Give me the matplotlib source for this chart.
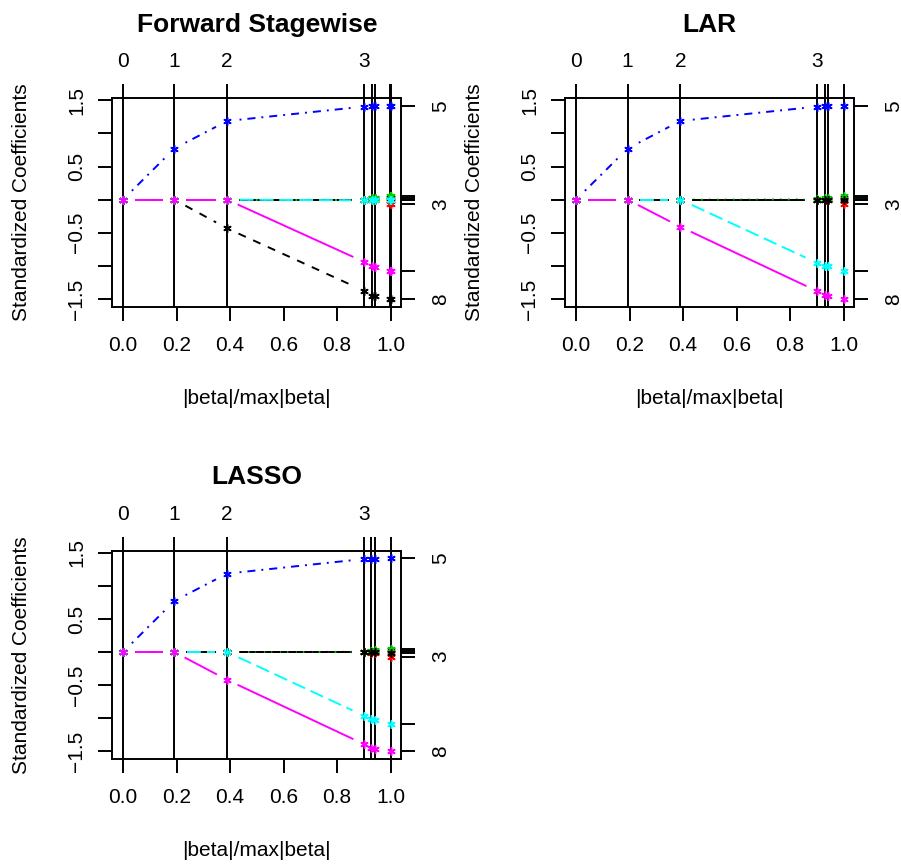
import numpy as np
import matplotlib
matplotlib.use('Agg')
import matplotlib.pyplot as plt
from matplotlib.transforms import offset_copy

plt.rcParams['font.family'] = ['Liberation Sans', 'DejaVu Sans']
plt.rcParams['lines.scale_dashes'] = False

# ---- data ----
titles = ['Forward Stagewise', 'LAR', 'LASSO']
xlab = '|beta|/max|beta|'
ylab = 'Standardized Coefficients'

# |beta|/max|beta| at each step
fs_steps = [0.0, 0.192, 0.389, 0.900, 0.931, 0.941, 0.996, 1.0]
lar_steps = [0.0, 0.193, 0.390, 0.900, 0.931, 0.941, 1.0]
lasso_steps = [0.0, 0.192, 0.389, 0.900, 0.928, 0.940, 1.0]

# coefficient paths, one row per variable (matplot colour / lty order)
fs_coef = [
    [0, 0, 0, 0, 0.02, 0.02, 0.026, 0.027],
    [0, 0, 0, 0, 0, 0, -0.06, -0.068],
    [0, 0, 0, 0, 0.02, 0.03, 0.05, 0.053],
    [0, 0.772, 1.188, 1.405, 1.407, 1.408, 1.413, 1.414],
    [0, 0, 0, -0.01, 0, 0, -0.005, -0.008],
    [0, 0, 0, -0.938, -1.003, -1.010, -1.075, -1.078],
    [0, 0, -0.434, -1.375, -1.455, -1.460, -1.495, -1.500],
    [0, 0, 0, 0, 0, 0, 0, 0],
]
lar_coef = [
    [0, 0, 0, 0, 0, 0.01, 0.027],
    [0, 0, 0, 0, -0.01, -0.01, -0.068],
    [0, 0, 0, 0.005, 0.02, 0.025, 0.053],
    [0, 0.772, 1.188, 1.405, 1.407, 1.408, 1.414],
    [0, 0, 0, -0.953, -0.998, -1.005, -1.078],
    [0, 0, -0.41, -1.38, -1.44, -1.45, -1.500],
    [0, 0, 0, 0, 0, 0, -0.008],
    [0, 0, 0, 0, 0, 0, 0],
]
lasso_coef = [
    [0, 0, 0, 0, 0, 0.01, 0.027],
    [0, 0, 0, 0, -0.01, -0.01, -0.068],
    [0, 0, 0, 0.005, 0.02, 0.025, 0.053],
    [0, 0.772, 1.185, 1.405, 1.407, 1.408, 1.414],
    [0, 0, 0, -0.96, -1.016, -1.02, -1.08],
    [0, 0, -0.42, -1.39, -1.45, -1.46, -1.500],
    [0, 0, 0, 0, 0, 0, -0.008],
    [0, 0, 0, 0, 0, 0, 0],
]

top_labels = ['0', '1', '2', '3']
fs_right = ['', '3', '', '5', '', '', '8', '']
lar_right = ['', '3', '', '5', '', '8', '', '']

x_ticks = [0.0, 0.2, 0.4, 0.6, 0.8, 1.0]
y_ticks = [-1.5, -1.0, -0.5, 0.0, 0.5, 1.0, 1.5]
y_ticklabels = ['\u22121.5', '', '\u22120.5', '', '0.5', '', '1.5']

# R (pre-4.0) palette and matplot lty cycle
colors = ['black', '#FF0000', '#00CD00', '#0000FF', '#00FFFF', '#FF00FF']
styles = ['-', (0, (5.8, 5.8)), (0, (1.4, 4.3)), (0, (1.4, 4.3, 5.8, 4.3)),
          (0, (10, 4.3))]
# stacking order of the series (last one ends on top)
draw_order = [7, 1, 0, 2, 6, 3, 4, 5]

W, H, DPI = 901, 867, 100
fig = plt.figure(figsize=(W / DPI, H / DPI), dpi=DPI)

LW = 1.4
FS = 15
GAP = 12.5  # px gap around points (type = "b")


def draw_panel(left_px, top_px, steps, coefs, title, right_lab):
    bw, bh = 289, 208.4
    ax = fig.add_axes([left_px / W, 1 - (top_px + bh) / H, bw / W, bh / H])
    vals = np.array(coefs, dtype=float)
    lo, hi = vals.min(), vals.max()
    ax.set_xlim(-0.04, 1.04)
    ax.set_ylim(lo - 0.04 * (hi - lo), hi + 0.04 * (hi - lo))

    for s in steps:
        ax.axvline(s, color='black', lw=LW, zorder=1)

    to_px = ax.transData
    from_px = ax.transData.inverted()
    for z, j in enumerate(draw_order):
        c = coefs[j]
        col = colors[j % 6]
        ls = styles[j % 5]
        pts = to_px.transform(np.column_stack([steps, c]))
        for k in range(len(steps) - 1):
            p0, p1 = pts[k], pts[k + 1]
            d = p1 - p0
            L = np.hypot(d[0], d[1])
            if L <= 2 * GAP:
                continue
            u = d / L
            seg = from_px.transform(np.array([p0 + u * GAP, p1 - u * GAP]))
            ax.plot(seg[:, 0], seg[:, 1], color=col, linestyle=ls, lw=LW,
                    zorder=2 + z * 0.01)
        ax.plot(steps, c, linestyle='none', marker=(6, 2, 0), color=col,
                ms=6, mew=1.1, zorder=3 + z * 0.01)

    for sp in ax.spines.values():
        sp.set_linewidth(LW)
    ax.set_xticks(x_ticks)
    ax.set_xticklabels(['%.1f' % t for t in x_ticks])
    ax.set_yticks(y_ticks)
    ax.set_yticklabels(y_ticklabels, rotation=90, va='center', ha='right')
    ax.tick_params(axis='x', direction='out', length=10, width=LW, pad=11,
                   labelsize=FS)
    ax.tick_params(axis='y', direction='out', length=10, width=LW, pad=8.8,
                   labelsize=FS)

    top = ax.secondary_xaxis('top')
    top.set_xticks(steps)
    top.set_xticklabels(top_labels + [''] * (len(steps) - len(top_labels)))
    top.tick_params(direction='out', length=10, width=LW, pad=9.4,
                    labelsize=FS)
    top.spines['top'].set_visible(False)

    right = ax.secondary_yaxis('right')
    right.set_yticks([c[-1] for c in coefs])
    right.set_yticklabels(right_lab, rotation=90, va='center', ha='left')
    right.tick_params(direction='out', length=10, width=LW, pad=11.5,
                      labelsize=FS)
    right.spines['right'].set_visible(False)

    ax.text(0.5, 1, title, ha='center', va='baseline', fontsize=19,
            weight='bold',
            transform=offset_copy(ax.transAxes, fig, y=66.6, units='dots'))
    ax.text(0.5, 0, xlab, ha='center', va='baseline', fontsize=FS,
            transform=offset_copy(ax.transAxes, fig, y=-97.3, units='dots'))
    ax.text(0, 0.5, ylab, ha='center', va='baseline', fontsize=FS,
            rotation=90, rotation_mode='anchor',
            transform=offset_copy(ax.transAxes, fig, x=-85.6, units='dots'))
    return ax


draw_panel(112.3, 98.3, fs_steps, fs_coef, titles[0], fs_right)
draw_panel(565.3, 98.3, lar_steps, lar_coef, titles[1], lar_right)
draw_panel(112.3, 550.7, lasso_steps, lasso_coef, titles[2], lar_right)

fig.savefig('out.png', dpi=DPI)
